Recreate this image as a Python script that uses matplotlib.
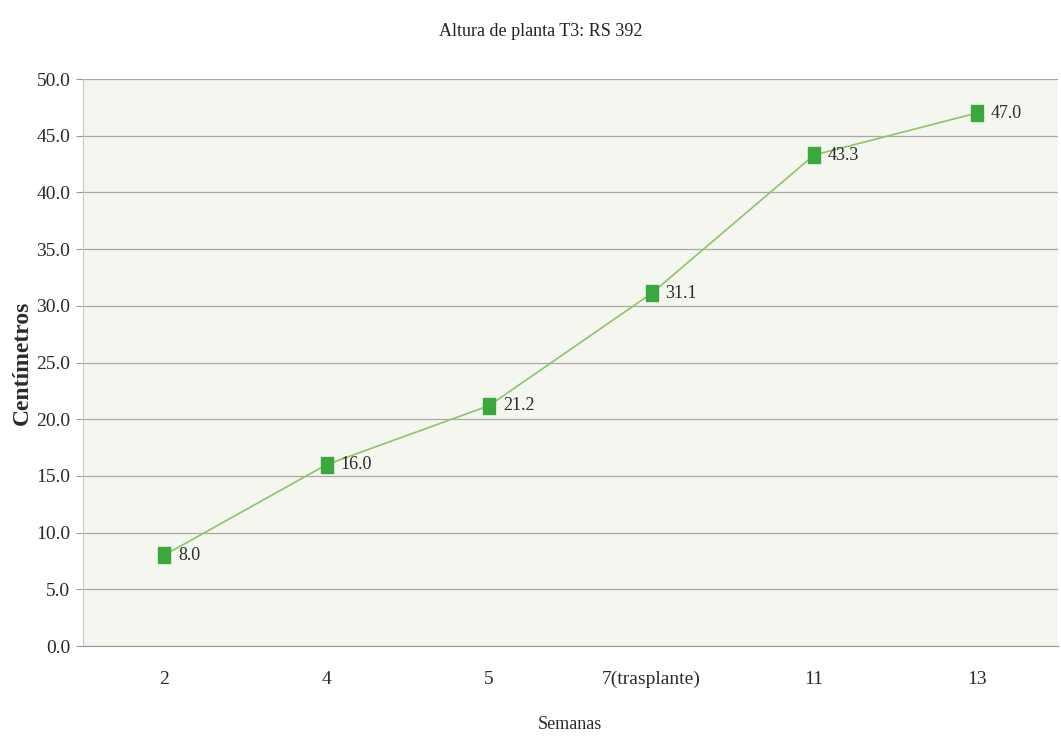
import matplotlib.pyplot as plt
import numpy as np

semanas = ["2", "4", "5", "7(trasplante)", "11", "13"]
altura = [8.0, 16.0, 21.2, 31.1, 43.3, 47.0]
y_ticks = np.arange(0, 50.1, 5)

plt.rcParams['font.family'] = ['Liberation Serif', 'DejaVu Serif']

fig = plt.figure(figsize=(10.61, 7.53), dpi=100)
ax = fig.add_axes([0.078, 0.142, 0.919, 0.753])
ax.set_facecolor('#f6f6f1')

# rectangle marker, taller than wide
rect = [(-0.33, -0.5), (0.33, -0.5), (0.33, 0.5), (-0.33, 0.5), (-0.33, -0.5)]

x = np.arange(len(semanas))
ax.plot(x, altura, color='#8cc46a', linewidth=1.2, zorder=3)
ax.plot(x, altura, linestyle='none', marker=rect, markersize=12,
        markerfacecolor='#3aa83a', markeredgecolor='#3aa83a', zorder=4)
for xi, v in zip(x, altura):
    ax.annotate(f"{v:.1f}", (xi, v), xytext=(10, 0), textcoords='offset points',
                va='center', ha='left', fontsize=13, color='#2a2a2a')

ax.set_xlim(-0.5, len(semanas) - 0.5)
ax.set_ylim(0, 50)
ax.set_yticks(y_ticks)
ax.set_yticklabels([f"{t:.1f}" for t in y_ticks], fontsize=14, color='#2a2a2a')
ax.set_xticks(x)
ax.set_xticklabels(semanas, fontsize=14, color='#2a2a2a')
ax.tick_params(axis='x', length=0, pad=18)
ax.tick_params(axis='y', length=5, color='#999999', pad=4)
ax.yaxis.grid(True, color='#a8a8a8', linewidth=0.9)
ax.set_axisbelow(True)
for s in ['top', 'right']:
    ax.spines[s].set_visible(False)
ax.spines['left'].set_color('#c8c8c8')
ax.spines['bottom'].set_color('#999999')

ax.set_ylabel("Centímetros", fontsize=17, fontweight='bold', color='#2a2a2a', labelpad=2)
ax.set_xlabel("Semanas", fontsize=13, color='#2a2a2a', labelpad=20)
fig.text(0.51, 0.958, "Altura de planta T3: RS 392", ha='center', va='center',
         fontsize=13, color='#222222')

fig.savefig("out.png", dpi=100)
